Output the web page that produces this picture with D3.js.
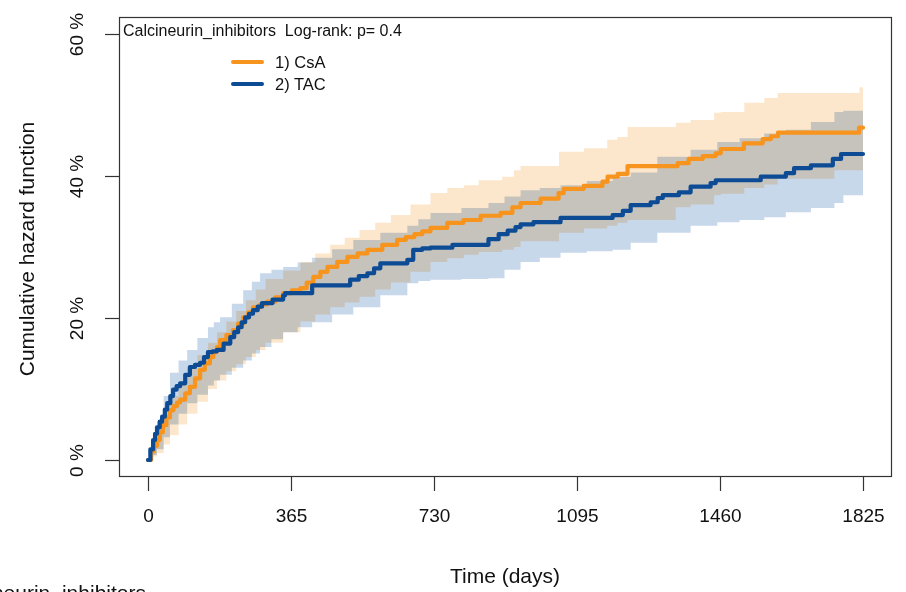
<!DOCTYPE html>
<html><head><meta charset="utf-8">
<script src="https://cdn.jsdelivr.net/npm/d3@7"></script>
<style>
html,body{margin:0;padding:0;background:#fff;overflow:hidden}
svg text{font-family:"Liberation Sans",Arial,sans-serif;fill:#111}
</style></head>
<body>
<svg id="c" width="906" height="592"></svg>
<script>
// ---- data ----
const seriesNames = ["1) CsA", "2) TAC"];
const xTicks = [0, 365, 730, 1095, 1460, 1825];
const yTicks = [0, 20, 40, 60];
const yTickLabels = ["0 %", "20 %", "40 %", "60 %"];

const csaTime = [0,8,15,23,30,38,47,56,65,74,82,95,107,120,133,145,158,167,176,184,200,217,230,243,256,268,286,304,325,345,367,389,405,422,440,458,483,509,535,560,598,636,658,680,700,721,
  764,805,849,900,930,951,1002,1048,1061,1112,1160,1173,1199,1224,1352,1380,1416,1449,1462,1521,1569,1590,1608,1815,1825];
const csaHaz = [0,1.2,2.0,2.8,3.9,4.9,6.0,7.0,7.6,8.1,8.5,9.4,10.3,11.5,12.7,13.6,14.5,15.2,15.9,16.9,17.6,18.3,19.2,20.1,20.8,21.5,21.9,22.3,22.9,23.5,23.9,24.2,25.0,25.8,26.5,27.2,27.9,28.6,29.1,29.6,30.3,31.0,31.4,31.8,32.2,32.7,
  33.4,33.8,34.4,34.8,35.6,36.2,36.8,37.6,38.2,38.6,39.2,39.9,40.3,41.4,41.8,42.4,42.8,43.2,43.8,44.6,45.2,45.6,46.1,46.8,46.8];

const tacTime = [0,6,13,18,23,30,36,43,49,57,64,73,82,95,107,120,133,143,153,165,176,193,210,220,230,239,248,258,268,280,291,318,345,350,419,516,538,560,577,593,662,677,700,721,
  777,869,895,918,938,951,984,1053,1186,1212,1232,1283,1301,1314,1355,1385,1436,1449,1564,1628,1649,1692,1748,1769,1825];
const tacHaz = [0,1.5,2.8,3.7,4.6,5.4,6.1,7.1,8.0,9.0,9.9,10.4,10.8,12.0,13.1,13.4,13.7,14.5,15.2,15.3,15.5,16.4,17.3,18.0,18.7,19.4,20.1,20.6,21.1,21.6,22.1,22.6,23.2,23.5,24.6,25.4,25.9,26.3,27.0,27.7,28.2,29.6,29.8,29.9,
  30.3,31.1,31.8,32.3,32.8,33.2,33.5,34.1,34.5,35.1,35.9,36.3,36.9,37.3,37.7,38.5,39.0,39.4,39.9,40.4,41.1,41.5,42.4,43.1,43.1];

const csaBandTime = [0,12,23,40,56,78,100,126,153,176,200,225,250,275,300,345,389,427,465,502,540,580,620,670,721,764,806,844,904,934,951,1049,1113,1172,1198,1224,1347,1385,1445,1462,1522,1573,1607,1752,1816,1825];
const csaUpper = [0,3,5,7,9,11,13,14.8,16.5,18,19.5,21,22.5,24,25.5,26.7,27.9,29.1,30.3,31.3,32.4,33.4,34.5,36,37.6,38.3,38.7,39.4,39.9,40.8,41.4,43.4,43.9,45.1,45.5,46.9,47.5,47.9,48.9,49.0,50.3,51.0,51.7,51.7,52.5,52.5];
const csaLower = [0,0.5,1,2.2,3.5,5,6.5,8.2,10,11.2,12.5,13.5,14.5,15.5,16.5,18,19.5,20.5,21.5,22.2,23,24,25,26.5,27.9,28.4,28.9,29.3,29.6,30.0,30.8,32,32.6,33.0,33.4,33.8,35.6,36.0,37.3,37.5,38.3,38.8,39.6,40.8,40.8,40.8];

const tacBandTime = [0,12,23,40,56,78,100,126,153,168,184,214,243,265,286,315,345,382,419,470,524,593,662,690,721,800,869,910,951,1000,1053,1120,1186,1232,1300,1385,1453,1510,1573,1628,1692,1752,1775,1825];
const tacUpper = [0,3,5.5,9,12.3,14,15.5,17.2,18.7,19.4,20.1,22,23.9,25.1,26.3,26.8,27.2,27.8,28.5,29.7,31,32,33,33.9,34.8,35.5,36.2,37.1,38,38.3,38.7,39.3,39.9,40.5,42.7,43.7,44.8,45.3,46,46.5,47.6,49,49.2,49.2];
const tacLower = [0,0.7,1.5,3.2,5,6.5,8,9.2,10.5,11.2,12,13,14,15,15.9,17,18,18.7,19.4,20.5,21.5,23.2,24.9,25.2,25.4,25.5,25.6,26.8,27.9,28.5,29.2,29.4,29.6,30.6,32,33,33.5,33.8,34.2,34.9,35.5,36.2,37.3,37.3];

const lineColors = ["#F7941E", "#0D4C95"];
const bandColors = ["#FDE7CC", "#C8D8EB"];

// ---- drawing ----
const svg = d3.select("#c");
const x = d3.scaleLinear().domain([0, 1825]).range([148, 863]);
const y = d3.scaleLinear().domain([0, 60]).range([460, 34]);

const series = [
  {t: csaTime, v: csaHaz, bt: csaBandTime, lo: csaLower, hi: csaUpper},
  {t: tacTime, v: tacHaz, bt: tacBandTime, lo: tacLower, hi: tacUpper}
];

const bandG = svg.append("g").style("isolation", "isolate");
const area = d3.area().curve(d3.curveStepAfter)
  .x(d => x(d[0])).y0(d => y(d[1])).y1(d => y(d[2]));
series.forEach((s, i) => {
  const pts = s.bt.map((t, j) => [t, s.lo[j], s.hi[j]]);
  bandG.append("path").attr("d", area(pts))
    .attr("fill", bandColors[i]).style("mix-blend-mode", "multiply");
});

const line = d3.line().curve(d3.curveStepAfter).x(d => x(d[0])).y(d => y(d[1]));
series.forEach((s, i) => {
  const pts = s.t.map((t, j) => [t, s.v[j]]);
  svg.append("path").attr("d", line(pts)).attr("fill", "none")
    .attr("stroke", lineColors[i]).attr("stroke-width", 4.2)
    .attr("stroke-linejoin", "round").attr("stroke-linecap", "round");
});

// box
svg.append("rect").attr("x", 119.5).attr("y", 17.5).attr("width", 772).attr("height", 459)
  .attr("fill", "none").attr("stroke", "#333").attr("stroke-width", 1.2);

// x axis
const xAxis = d3.axisBottom(x).tickValues(xTicks).tickSize(14).tickPadding(18).tickFormat(d3.format("d"));
const gx = svg.append("g").attr("transform", "translate(0,477)").call(xAxis);
gx.select(".domain").remove();
gx.selectAll(".tick line").attr("stroke", "#333").attr("stroke-width", 1.2);
gx.selectAll(".tick text").attr("font-size", 19).attr("fill", "#111")
  .style("font-family", "'Liberation Sans', Arial, sans-serif");

// y axis
const yAxis = d3.axisLeft(y).tickValues(yTicks).tickSize(14).tickFormat((d, i) => yTickLabels[i]);
const gy = svg.append("g").attr("transform", "translate(119,0)").call(yAxis);
gy.select(".domain").remove();
gy.selectAll(".tick line").attr("stroke", "#333").attr("stroke-width", 1.2);
gy.selectAll(".tick text").attr("font-size", 19).attr("fill", "#111")
  .attr("x", null).attr("dy", null)
  .attr("text-anchor", "middle")
  .attr("transform", "translate(-36,0) rotate(-90)")
  .attr("y", 0)
  .style("font-family", "'Liberation Sans', Arial, sans-serif");

// axis titles
svg.append("text").attr("transform", "translate(34,249) rotate(-90)")
  .attr("text-anchor", "middle").attr("font-size", 21).text("Cumulative hazard function");
svg.append("text").attr("x", 505).attr("y", 583)
  .attr("text-anchor", "middle").attr("font-size", 21).text("Time (days)");
svg.append("text").attr("x", 146).attr("y", 600)
  .attr("text-anchor", "end").attr("font-size", 21).text("Calcineurin_inhibitors");

// legend
svg.append("text").attr("x", 123).attr("y", 36).attr("font-size", 16)
  .attr("xml:space", "preserve").style("white-space", "pre")
  .text("Calcineurin_inhibitors  Log-rank: p= 0.4");
seriesNames.forEach((n, i) => {
  const ly = 62 + i * 22;
  svg.append("line").attr("x1", 233).attr("x2", 262).attr("y1", ly).attr("y2", ly)
    .attr("stroke", lineColors[i]).attr("stroke-width", 4).attr("stroke-linecap", "round");
  svg.append("text").attr("x", 275).attr("y", ly + 6).attr("font-size", 16.5).text(n);
});
</script>
</body></html>
